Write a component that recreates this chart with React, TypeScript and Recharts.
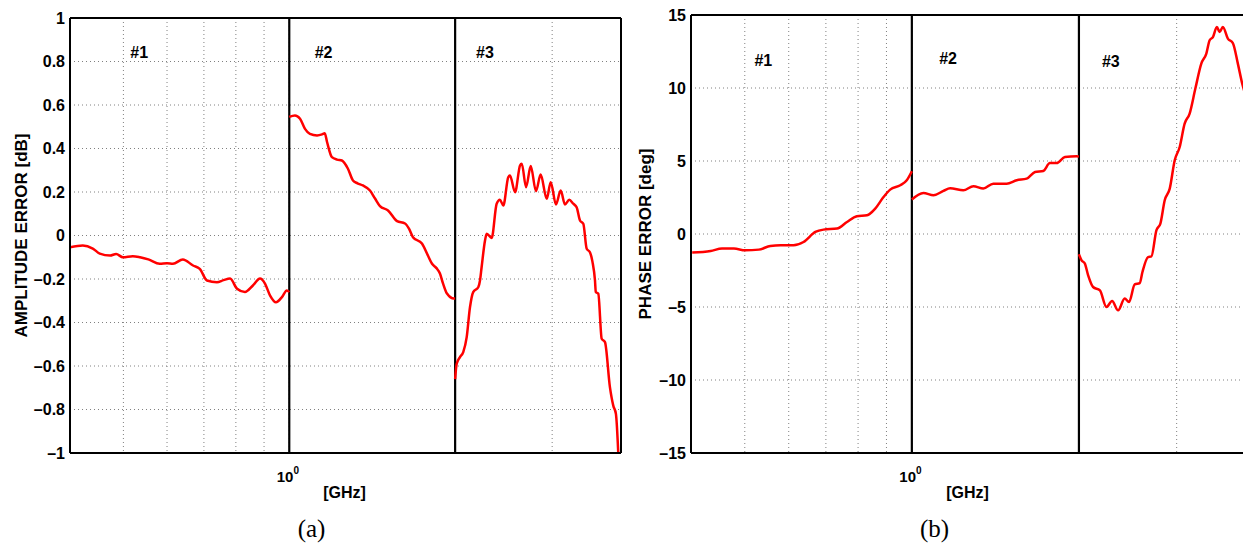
import React from 'react';
import { LineChart, Line, XAxis, YAxis, CartesianGrid, ReferenceLine, ReferenceDot } from 'recharts';

const FONT = "'Liberation Sans', Arial, Helvetica, sans-serif";
const SERIF = "'Liberation Serif', 'DejaVu Serif', serif";

// log frequency axis (GHz); only 10^0 gets a label
const freqTicks = [0.4, 0.5, 0.6, 0.7, 0.8, 0.9, 1, 2, 3, 4];
const bandEdges = [1, 2];
const bandNames = ['#1', '#2', '#3'];

const ampTicks = [-1, -0.8, -0.6, -0.4, -0.2, 0, 0.2, 0.4, 0.6, 0.8, 1];
const phaseTicks = [-15, -10, -5, 0, 5, 10, 15];

// amplitude error [GHz, dB], one list per band
const ampBand1 = [
  [0.4, -0.054], [0.422, -0.046], [0.44, -0.06], [0.453, -0.083], [0.473, -0.092],
  [0.485, -0.085], [0.499, -0.1], [0.52, -0.095], [0.536, -0.1], [0.555, -0.11],
  [0.582, -0.13], [0.6, -0.128], [0.615, -0.13], [0.641, -0.11], [0.669, -0.138],
  [0.688, -0.153], [0.709, -0.207], [0.739, -0.215], [0.76, -0.205], [0.781, -0.198],
  [0.804, -0.245], [0.831, -0.26], [0.859, -0.23], [0.885, -0.198], [0.903, -0.22],
  [0.923, -0.276], [0.946, -0.307], [0.97, -0.283], [0.99, -0.253], [1.0, -0.26],
];
const ampBand2 = [
  [1.0, 0.545], [1.024, 0.552], [1.046, 0.537], [1.068, 0.49], [1.09, 0.467],
  [1.123, 0.46], [1.147, 0.465], [1.16, 0.47], [1.171, 0.43], [1.195, 0.36],
  [1.221, 0.349], [1.246, 0.345], [1.278, 0.307], [1.305, 0.253], [1.33, 0.24],
  [1.36, 0.23], [1.401, 0.207], [1.431, 0.17], [1.461, 0.135], [1.511, 0.115],
  [1.569, 0.066], [1.622, 0.055], [1.65, 0.03], [1.677, -0.008], [1.741, -0.037],
  [1.785, -0.092], [1.816, -0.13], [1.85, -0.15], [1.877, -0.175], [1.901, -0.22],
  [1.933, -0.267], [1.99, -0.29], [2.0, -0.29],
];
const ampBand3 = [
  [2.0, -0.66], [2.013, -0.59], [2.041, -0.559], [2.069, -0.536], [2.099, -0.467],
  [2.128, -0.33], [2.157, -0.26], [2.203, -0.238], [2.219, -0.207], [2.234, -0.146],
  [2.266, -0.023], [2.282, 0.008], [2.33, -0.011], [2.379, 0.146], [2.412, 0.164],
  [2.446, 0.138], [2.497, 0.268], [2.515, 0.276], [2.569, 0.199], [2.623, 0.322],
  [2.642, 0.33], [2.69, 0.222], [2.743, 0.319], [2.804, 0.204], [2.859, 0.28],
  [2.933, 0.169], [2.982, 0.245], [3.048, 0.143], [3.109, 0.207], [3.165, 0.143],
  [3.222, 0.164], [3.277, 0.146], [3.323, 0.13], [3.37, 0.069], [3.417, 0.054],
  [3.466, -0.061], [3.513, -0.077], [3.55, -0.12], [3.588, -0.207], [3.6, -0.26],
  [3.638, -0.268], [3.69, -0.475], [3.741, -0.49], [3.819, -0.697], [3.873, -0.782],
  [3.916, -0.82], [3.954, -0.996],
];

// phase error [GHz, deg]
const phaseBand1 = [
  [0.402, -1.27], [0.434, -1.16], [0.455, -1.0], [0.478, -1.0], [0.501, -1.12],
  [0.53, -1.07], [0.556, -0.82], [0.58, -0.77], [0.612, -0.77], [0.638, -0.55],
  [0.67, 0.14], [0.693, 0.3], [0.733, 0.37], [0.764, 0.82], [0.796, 1.21],
  [0.83, 1.28], [0.859, 1.74], [0.889, 2.53], [0.914, 3.04], [0.953, 3.34],
  [0.979, 3.68], [1.0, 4.3],
];
const phaseBand2 = [
  [1.0, 2.36], [1.049, 2.81], [1.094, 2.65], [1.14, 2.95], [1.172, 3.13],
  [1.238, 2.99], [1.291, 3.27], [1.345, 3.11], [1.402, 3.45], [1.482, 3.45],
  [1.545, 3.68], [1.61, 3.79], [1.667, 4.25], [1.725, 4.32], [1.773, 4.86],
  [1.823, 4.86], [1.887, 5.27], [1.981, 5.32], [2.0, 5.3],
];
const phaseBand3 = [
  [2.0, -1.39], [2.022, -1.8], [2.05, -2.03], [2.078, -2.83], [2.121, -3.63],
  [2.182, -3.86], [2.242, -5.0], [2.295, -4.59], [2.353, -5.23], [2.418, -4.42],
  [2.462, -4.66], [2.521, -3.45], [2.574, -3.36], [2.603, -2.6], [2.664, -1.58],
  [2.702, -1.53], [2.758, 0.25], [2.804, 0.71], [2.855, 2.31], [2.915, 3.11],
  [2.976, 5.05], [3.038, 5.96], [3.101, 7.56], [3.166, 8.25], [3.242, 9.96],
  [3.323, 11.67], [3.393, 12.36], [3.44, 13.27], [3.487, 13.49], [3.545, 14.18],
  [3.585, 13.84], [3.634, 14.18], [3.71, 13.38], [3.788, 13.08], [3.867, 11.67],
  [3.938, 10.3], [4.0, 9.4],
];

// anchors of the "#n" band labels, in data units
const ampLabelAt = [[0.534, 0.84], [1.154, 0.84], [2.266, 0.84]];
const phaseLabelAt = [[0.54, 11.9], [1.162, 12.0], [2.283, 11.8]];

const toRows = (band: number[][]) => band.map(([f, v]) => ({ f, v }));

const fmtTick = (v: number) => {
  const a = Math.abs(v);
  const s = Number.isInteger(a) ? String(a) : a.toFixed(1);
  return v < 0 ? '\u2013' + s : s;
};

function FreqTick(props: any) {
  const { x, y, payload } = props;
  if (payload.value !== 1) return <g />;
  return (
    <text x={x - 12.5} y={y + 29} fontFamily={FONT} fontWeight="bold" fontSize={15} fill="#000">
      10<tspan dy={-8} fontSize={10}>0</tspan>
    </text>
  );
}

function Panel(p: any) {
  const frame = { stroke: '#000', strokeWidth: 2 };
  return (
    <div style={{ position: 'absolute', left: p.left, top: 0 }}>
      <LineChart width={640} height={546} margin={{ top: p.top, right: p.right, bottom: 0, left: 0 }}>
        <CartesianGrid stroke="#808080" strokeDasharray="1 3" />
        <XAxis
          dataKey="f"
          type="number"
          scale="log"
          domain={[0.4, 4]}
          allowDataOverflow
          ticks={freqTicks}
          interval={0}
          height={93}
          tickSize={0}
          tickMargin={0}
          tick={<FreqTick />}
          axisLine={frame}
          label={{
            content: (lp: any) => {
              const vb = lp.viewBox;
              const cx = vb.x + vb.width / 2;
              return (
                <g>
                  <text x={cx - 1} y={vb.y + 45} textAnchor="middle" fontFamily={FONT} fontWeight="bold" fontSize={16} fill="#000">
                    [GHz]
                  </text>
                  <text x={cx - 34} y={vb.y + 84} textAnchor="middle" fontFamily={SERIF} fontSize={25} fill="#000">
                    {p.caption}
                  </text>
                </g>
              );
            },
          }}
        />
        <YAxis
          type="number"
          domain={p.domain}
          allowDataOverflow
          ticks={p.ticks}
          interval={0}
          width={p.yAxisWidth}
          tickSize={0}
          tickMargin={5}
          tickFormatter={fmtTick}
          tick={{ fill: '#000', fontSize: 16, fontWeight: 'bold', fontFamily: FONT }}
          axisLine={frame}
          label={{
            content: (lp: any) => {
              const vb = lp.viewBox;
              const cx = vb.x + p.yLabelX;
              const cy = vb.y + vb.height / 2;
              return (
                <text x={cx} y={cy} transform={`rotate(-90 ${cx} ${cy})`} textAnchor="middle" dominantBaseline="central"
                  fontFamily={FONT} fontWeight="bold" fontSize={17} fill="#000">
                  {p.yLabel}
                </text>
              );
            },
          }}
        />
        <ReferenceLine y={p.domain[1]} stroke="#000" strokeWidth={2} />
        <ReferenceLine x={4} stroke="#000" strokeWidth={2} />
        {bandEdges.map((b) => (
          <ReferenceLine key={b} x={b} stroke="#000" strokeWidth={2.2} />
        ))}
        {p.labelAt.map(([f, v]: number[], i: number) => (
          <ReferenceDot
            key={i}
            x={f}
            y={v}
            r={0}
            shape={(sp: any) => (
              <text x={sp.cx} y={sp.cy} textAnchor="middle" dominantBaseline="central" fontFamily={FONT}
                fontWeight="bold" fontSize={16} fill="#000">
                {bandNames[i]}
              </text>
            )}
          />
        ))}
        {p.bands.map((band: number[][], i: number) => (
          <Line
            key={i}
            data={toRows(band)}
            type="monotone"
            dataKey="v"
            stroke="#ff0000"
            strokeWidth={2.5}
            dot={false}
            isAnimationActive={false}
          />
        ))}
      </LineChart>
    </div>
  );
}

export default function App() {
  return (
    <div style={{ position: 'absolute', left: 0, top: 0, width: 1243, height: 546, overflow: 'hidden', background: '#fff' }}>
      <Panel
        left={0}
        top={18}
        right={19}
        yAxisWidth={70}
        yLabelX={21}
        bands={[ampBand1, ampBand2, ampBand3]}
        ticks={ampTicks}
        domain={[-1, 1]}
        yLabel="AMPLITUDE ERROR [dB]"
        caption="(a)"
        labelAt={ampLabelAt}
      />
      <Panel
        left={620}
        top={15}
        right={14}
        yAxisWidth={71}
        yLabelX={25}
        bands={[phaseBand1, phaseBand2, phaseBand3]}
        ticks={phaseTicks}
        domain={[-15, 15]}
        yLabel="PHASE ERROR [deg]"
        caption="(b)"
        labelAt={phaseLabelAt}
      />
    </div>
  );
}
